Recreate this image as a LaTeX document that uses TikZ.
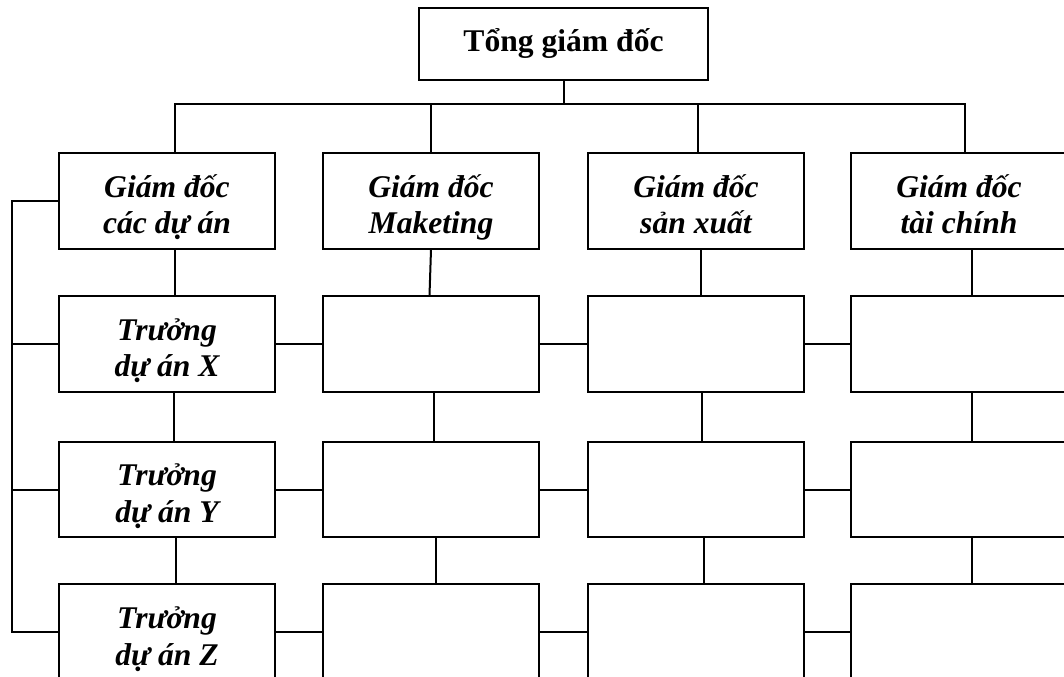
\documentclass[tikz,border=0pt]{standalone}
\usepackage{fontspec}
\setmainfont{Liberation Serif}
\usepackage{tikz}
\usetikzlibrary{calc, positioning}

\begin{document}
\begin{tikzpicture}[x=0.75pt, y=-0.75pt, line width=1.5pt,
        frame/.style={draw, rectangle, minimum width=162pt, minimum height=71.6pt, align=center,
            font=\fontsize{23.7}{27.5}\selectfont\bfseries\itshape},
        box/.style={frame, inner ysep=0pt,
            execute at begin node=\rule{0pt}{58.5pt}, execute at end node=\rule[-9pt]{0pt}{0pt}}]
            \useasboundingbox (0,0) rectangle (1064,677);
            \clip (0,0) rectangle (1064,677);

            % top
            \node[frame, minimum width=216.75pt, minimum height=54pt, font=\fontsize{23.7}{27}\selectfont\bfseries,
                execute at begin node=\strut, execute at end node=\strut] (tgd) at (563.5,44) {Tổng giám đốc};
            \coordinate (bus) at (563.5,104);

            % directors
            \node[box] (gdda) at (167,201) {Giám đốc\\các dự án};
            \node[box] (gdmk) at (431,201) {Giám đốc\\Maketing};
            \node[box] (gdsx) at (696,201) {Giám đốc\\sản xuất};
            \node[box] (gdtc) at (959,201) {Giám đốc\\tài chính};

            % project rows
            \node[box] (tdx) at (167,344) {Trưởng\\dự án X};
            \node[box] (mkx) at (431,344) {};
            \node[box] (sxx) at (696,344) {};
            \node[box] (tcx) at (959,344) {};

            \node[box] (tdy) at (167,489.5) {Trưởng\\dự án Y};
            \node[box] (mky) at (431,489.5) {};
            \node[box] (sxy) at (696,489.5) {};
            \node[box] (tcy) at (959,489.5) {};

            \node[box] (tdz) at (167,632) {Trưởng\\dự án Z};
            \node[box] (mkz) at (431,632) {};
            \node[box] (sxz) at (696,632) {};
            \node[box] (tcz) at (959,632) {};

            % tree lines
            \draw (tgd.south) -- (bus);
            \draw ($(gdda.north)+(7.5,0)$) |- (bus) -| ($(gdtc.north)+(6,0)$);
            \draw (gdmk.north) |- (bus);
            \draw ($(gdsx.north)+(1.5,0)$) |- (bus);

            % columns
            \draw ($(gdda.south)+(7.5,0)$) -- ($(tdx.north)+(7.5,0)$);
            \draw ($(tdx.south)+(6.5,0)$) -- ($(tdy.north)+(6.5,0)$);
            \draw ($(tdy.south)+(8.5,0)$) -- ($(tdz.north)+(8.5,0)$);
            \draw ($(gdmk.south)+(0,0)$) -- ($(mkx.north)+(-1.5,0)$);
            \draw ($(mkx.south)+(3,0)$) -- ($(mky.north)+(3,0)$);
            \draw ($(mky.south)+(4.5,0)$) -- ($(mkz.north)+(4.5,0)$);
            \draw ($(gdsx.south)+(5,0)$) -- ($(sxx.north)+(5,0)$);
            \draw ($(sxx.south)+(6,0)$) -- ($(sxy.north)+(6,0)$);
            \draw ($(sxy.south)+(8,0)$) -- ($(sxz.north)+(8,0)$);
            \draw ($(gdtc.south)+(13,0)$) -- ($(tcx.north)+(13,0)$);
            \draw ($(tcx.south)+(13,0)$) -- ($(tcy.north)+(13,0)$);
            \draw ($(tcy.south)+(13,0)$) -- ($(tcz.north)+(13,0)$);

            % rows
            \draw (tdx.east) -- (mkx.west);
            \draw (mkx.east) -- (sxx.west);
            \draw (sxx.east) -- (tcx.west);
            \draw (tdy.east) -- (mky.west);
            \draw (mky.east) -- (sxy.west);
            \draw (sxy.east) -- (tcy.west);
            \draw (tdz.east) -- (mkz.west);
            \draw (mkz.east) -- (sxz.west);
            \draw (sxz.east) -- (tcz.west);

            % left bracket
            \draw (gdda.west) -- ++(-46.5,0) |- (tdz.west);
            \draw (tdx.west) -- ++(-46.5,0);
            \draw (tdy.west) -- ++(-46.5,0);
        \end{tikzpicture}
\end{document}
